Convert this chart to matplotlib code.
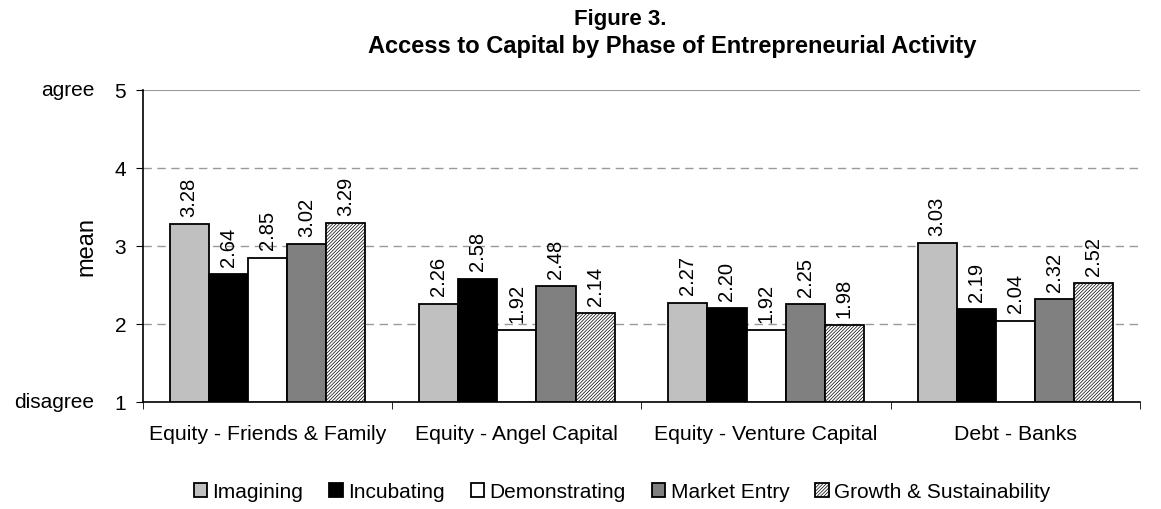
import matplotlib.pyplot as plt
import numpy as np

plt.rcParams['font.family'] = ['Liberation Sans', 'DejaVu Sans']
plt.rcParams['hatch.color'] = '#8f8f8f'
plt.rcParams['hatch.linewidth'] = 0.5

categories = ['Equity - Friends & Family', 'Equity - Angel Capital',
              'Equity - Venture Capital', 'Debt - Banks']
phases = ['Imagining', 'Incubating', 'Demonstrating', 'Market Entry',
          'Growth & Sustainability']
imagining = [3.28, 2.26, 2.27, 3.03]
incubating = [2.64, 2.58, 2.20, 2.19]
demonstrating = [2.85, 1.92, 1.92, 2.04]
market_entry = [3.02, 2.48, 2.25, 2.32]
growth = [3.29, 2.14, 1.98, 2.52]

series = [imagining, incubating, demonstrating, market_entry, growth]
colors = ['#c0c0c0', '#000000', '#ffffff', '#808080', '#ffffff']
hatches = [None, None, None, None, '//////////']

fig = plt.figure(figsize=(11.61, 5.10), dpi=100)
ax = fig.add_axes([0.123, 0.21, 0.859, 0.612])

x = np.arange(len(categories))
w = 0.157
for i, (vals, c, h) in enumerate(zip(series, colors, hatches)):
    pos = x + (i - 2) * w
    ax.bar(pos, np.array(vals) - 1, w, bottom=1, color=c,
           edgecolor='black', linewidth=1.3, hatch=h, label=phases[i],
           zorder=3)
    for xp, v in zip(pos, vals):
        ax.annotate(f'{v:.2f}', (xp, v), xytext=(0, 6),
                    textcoords='offset points', rotation=90, ha='center',
                    va='bottom', fontsize=14.5)

ax.set_xlim(-0.5, 3.5)
ax.set_ylim(1, 5)
ax.set_yticks([1, 2, 3, 4, 5])
ax.tick_params(axis='y', labelsize=15, length=5, direction='out', pad=7)
ax.set_xticks(x)
ax.set_xticklabels(categories, fontsize=15.3)
ax.set_xticks(np.arange(-0.5, 4, 1), minor=True)
ax.tick_params(axis='x', which='major', length=0, pad=16)
ax.tick_params(axis='x', which='minor', length=5)
for yv in [2, 3, 4]:
    ax.axhline(yv, color='#999999', linestyle=(0, (6, 4)), linewidth=1,
               zorder=1)
ax.axhline(5, color='#999999', linewidth=1.5, zorder=1)
ax.spines['top'].set_visible(False)
ax.spines['right'].set_visible(False)
ax.spines['left'].set_linewidth(1.2)
ax.spines['bottom'].set_linewidth(1.2)
ax.set_ylabel('mean', fontsize=17)
ax.yaxis.set_label_coords(-0.045, 0.5)

fig.text(94 / 1161, 1 - 91 / 510, 'agree', ha='right', va='center',
         fontsize=15)
fig.text(94 / 1161, 1 - 403 / 510, 'disagree', ha='right', va='center',
         fontsize=15)

fig.text(620 / 1161, 1 - 19 / 510, 'Figure 3.', ha='center', va='center',
         fontsize=16, fontweight='bold')
fig.text(672 / 1161, 1 - 46 / 510,
         'Access to Capital by Phase of Entrepreneurial Activity',
         ha='center', va='center', fontsize=17, fontweight='bold')

fig.legend(loc='center', bbox_to_anchor=(622 / 1161, 1 - 493 / 510),
           ncol=5, frameon=False, fontsize=15, handlelength=0.65,
           handleheight=0.65, handletextpad=0.25, columnspacing=1.25)

fig.savefig('out.png', dpi=100)
